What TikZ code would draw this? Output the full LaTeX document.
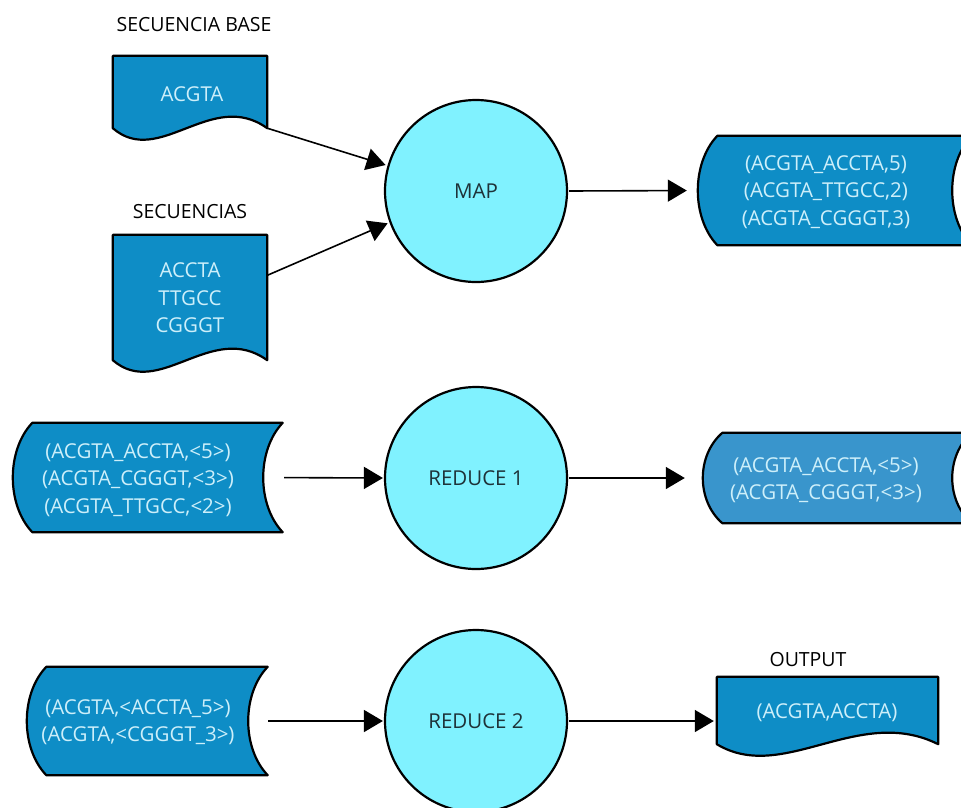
\documentclass[tikz,border=0pt]{standalone}
\usepackage{fontspec}
\setmainfont{Open Sans}
\usetikzlibrary{arrows.meta,calc}

\definecolor{boxblue}{HTML}{0E8DC6}
\definecolor{boxblueB}{HTML}{3995CC}
\definecolor{procfill}{HTML}{80F2FF}
\definecolor{boxtext}{HTML}{CDEFFA}
\definecolor{proctext}{HTML}{1E3238}

% flowchart "document" outline (wavy bottom) around a rectangle node
\newcommand\drawdoc[2][boxblue]{%
  \path[outline,fill=#1]
    let \p1=(#2.north west), \p2=(#2.south east) in
    (\x1,\y1) -- (\x2,\y1) -- (\x2,\y2)
    .. controls ({\x2-0.36*(\x2-\x1)},{\y2+40pt}) and ({\x1+0.30*(\x2-\x1)},{\y2-40pt}) ..
    (\x1,\y2) -- cycle;}

% flowchart "stored data" outline: convex left side, concave right side;
% the node marks the inner area (leftmost bulge to innermost right curve)
\newcommand\drawstore[2][boxblue]{%
  \path[outline,fill=#1]
    let \p1=(#2.north west), \p2=(#2.south east), \n1={\y1-\y2} in
    ({\x1+19.5pt},\y1) -- ({\x2+19.5pt},\y1)
    .. controls ({\x2-6.5pt},{\y1-\n1/4}) and ({\x2-6.5pt},{\y2+\n1/4}) ..
    ({\x2+19.5pt},\y2) -- ({\x1+19.5pt},\y2)
    .. controls ({\x1-6.5pt},{\y2+\n1/4}) and ({\x1-6.5pt},{\y1-\n1/4}) ..
    ({\x1+19.5pt},\y1) -- cycle;}

\tikzset{
  outline/.style={draw=black,line width=2.2pt,line join=round},
  proc/.style={circle,draw=black,line width=2.2pt,fill=procfill,
    minimum size=182pt,inner sep=0pt,text=proctext,
    font=\fontsize{20.5}{24}\selectfont},
  boxnode/.style={rectangle,inner sep=0pt,text=boxtext,align=center,
    font=\fontsize{20.5}{27.5}\selectfont},
  caption/.style={inner sep=0pt,font=\fontsize{19.5}{22}\selectfont},
  flow/.style={-{Triangle[length=19pt,width=22pt]},line width=1.6pt},
}

\begin{document}
\begin{tikzpicture}[x=1pt,y=-1pt]
\useasboundingbox (0,0) rectangle (961,807);
\clip (0,0) rectangle (961,807);

% input documents
\node[boxnode,minimum width=154pt,minimum height=72pt] (base) at (190,92) {};
\drawdoc{base}
\node[boxnode] (basetxt) at (192,94) {ACGTA};
\node[caption] (basecap) at (194,25) {SECUENCIA BASE};

\node[boxnode,minimum width=154pt,minimum height=125pt] (seqs) at (190,297.5) {};
\drawdoc{seqs}
\node[boxnode] (seqstxt) at (190,298) {ACCTA\\TTGCC\\CGGGT};
\node[caption] (seqscap) at (190,212) {SECUENCIAS};

% map stage
\node[proc] (map) at (476,191) {MAP};
\node[boxnode,minimum width=254pt,minimum height=109pt] (mapout) at (825,190.5) {};
\drawstore{mapout}
\node[boxnode] (mapouttxt) at (826,192) {(ACGTA\_ACCTA,5)\\(ACGTA\_TTGCC,2)\\(ACGTA\_CGGGT,3)};

% first reduce stage
\node[boxnode,minimum width=250pt,minimum height=109pt] (r1in) at (138,477.5) {};
\drawstore{r1in}
\node[boxnode] (r1intxt) at (138,480) {(ACGTA\_ACCTA,<5>)\\(ACGTA\_CGGGT,<3>)\\(ACGTA\_TTGCC,<2>)};
\node[proc] (red1) at (476,478) {REDUCE 1};
\node[boxnode,minimum width=249pt,minimum height=90pt] (r1out) at (827.5,478) {};
\drawstore[boxblueB]{r1out}
\node[boxnode] (r1outtxt) at (826,480) {(ACGTA\_ACCTA,<5>)\\(ACGTA\_CGGGT,<3>)};

% second reduce stage
\node[boxnode,minimum width=221pt,minimum height=108pt] (r2in) at (137.5,721) {};
\drawstore{r2in}
\node[boxnode] (r2intxt) at (138,722) {(ACGTA,<ACCTA\_5>)\\(ACGTA,<CGGGT\_3>)};
\node[proc] (red2) at (476,721) {REDUCE 2};
\node[boxnode,minimum width=221pt,minimum height=67pt] (out) at (827.5,710.5) {};
\drawdoc{out}
\node[boxnode] (outtxt) at (827,713) {(ACGTA,ACCTA)};
\node[caption] (outcap) at (808,660) {OUTPUT};

% connectors
\draw[flow,shorten >=2pt] (base.south east) -- (map.164);
\draw[flow,shorten >=2pt] (seqs.16) -- (map.200);
\draw[flow,shorten <=1pt,shorten >=11pt] (map.east) -- (mapout.west);
\draw[flow,shorten <=21pt,shorten >=1pt] (r1in.east) -- (red1.west);
\draw[flow,shorten <=1pt,shorten >=18pt] (red1.east) -- (r1out.west);
\draw[flow,shorten <=20pt,shorten >=1pt] (r2in.east) -- (red2.west);
\draw[flow,shorten <=1pt,shorten >=3pt] (red2.east) -- (red2.east -| out.west);
\end{tikzpicture}
\end{document}
